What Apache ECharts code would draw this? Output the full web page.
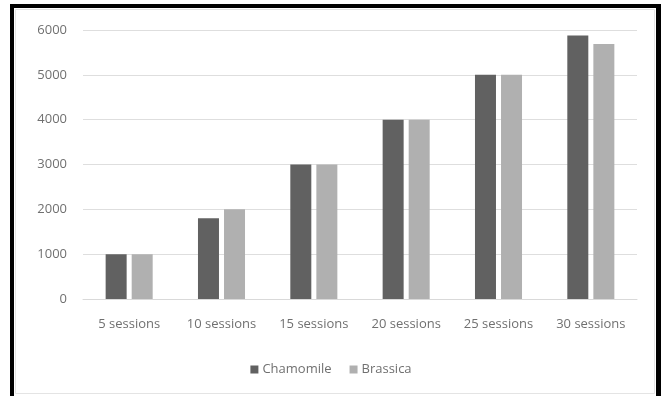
<!DOCTYPE html>
<html>
<head>
<meta charset="utf-8">
<script src="https://cdn.jsdelivr.net/npm/echarts@6/dist/echarts.min.js"></script>
<style>
  html, body { margin: 0; padding: 0; background: #ffffff; }
  #chart { width: 662px; height: 396px; }
</style>
</head>
<body>
<div id="chart"></div>
<script>
// Session counts on the x axis
const categories = ['5 sessions', '10 sessions', '15 sessions', '20 sessions', '25 sessions', '30 sessions'];
// Values per series
const chamomile = [1000, 1800, 3000, 4000, 5000, 5880];
const brassica = [1000, 2000, 3000, 4000, 5000, 5690];
// Y axis scale
const yMin = 0;
const yMax = 6000;
const yStep = 1000;

const textColor = '#707070';
const fontFamily = '"Open Sans", "Liberation Sans", sans-serif';

const chart = echarts.init(document.getElementById('chart'), null, { renderer: 'canvas' });

chart.setOption({
  animation: false,
  backgroundColor: '#ffffff',
  textStyle: { fontFamily: fontFamily },
  grid: { left: 83, right: 25, top: 30, bottom: 97, containLabel: false },
  legend: {
    data: ['Chamomile', 'Brassica'],
    bottom: 15,
    left: 'center',
    itemWidth: 8,
    itemHeight: 8,
    itemGap: 18,
    icon: 'rect',
    textStyle: { color: textColor, fontSize: 13, fontFamily: fontFamily, padding: [0, 0, 0, -1] }
  },
  xAxis: {
    type: 'category',
    data: categories,
    axisLine: { show: true, lineStyle: { color: '#d9d9d9', width: 1 } },
    axisTick: { show: false },
    axisLabel: { color: textColor, fontSize: 13, margin: 19, fontFamily: fontFamily }
  },
  yAxis: {
    type: 'value',
    min: yMin,
    max: yMax,
    interval: yStep,
    axisLine: { show: false },
    axisTick: { show: false },
    axisLabel: {
      color: textColor, fontSize: 13, margin: 16, fontFamily: fontFamily,
      formatter: (v) => String(v)
    },
    splitLine: { show: true, lineStyle: { color: '#dedede', width: 1 } }
  },
  series: [
    {
      name: 'Chamomile',
      type: 'bar',
      data: chamomile,
      barWidth: 21,
      barGap: '24%',
      itemStyle: { color: '#616161' }
    },
    {
      name: 'Brassica',
      type: 'bar',
      data: brassica,
      barWidth: 21,
      itemStyle: { color: '#b0b0b0' }
    }
  ],
  graphic: [
    // thin inner frame
    { type: 'rect', silent: true, z: 0, shape: { x: 15.5, y: 9.5, width: 639, height: 384 },
      style: { fill: 'none', stroke: '#e4e4e4', lineWidth: 1 } },
    // heavy outer frame (left, top, right)
    { type: 'rect', silent: true, z: 10, shape: { x: 10, y: 4, width: 4, height: 392 }, style: { fill: '#000000' } },
    { type: 'rect', silent: true, z: 10, shape: { x: 10, y: 4, width: 651, height: 4 }, style: { fill: '#000000' } },
    { type: 'rect', silent: true, z: 10, shape: { x: 656, y: 4, width: 5, height: 392 }, style: { fill: '#000000' } }
  ]
});
</script>
</body>
</html>
